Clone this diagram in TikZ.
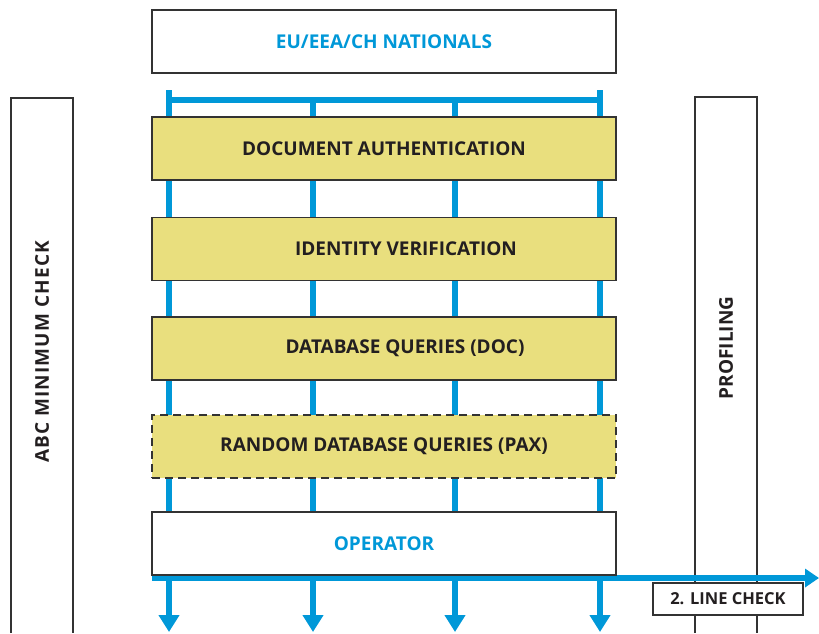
\documentclass[tikz,border=0pt]{standalone}
\usepackage{fontspec}
\setmainfont{Open Sans}
\usetikzlibrary{arrows.meta}
\definecolor{flowblue}{RGB}{0,152,216}
\definecolor{boxyellow}{RGB}{233,223,126}
\definecolor{boxline}{RGB}{51,51,51}
\definecolor{txt}{RGB}{35,31,32}
\begin{document}
\begin{tikzpicture}[x=1pt,y=-1pt,
  stage/.style={draw=boxline, line width=1.7pt, minimum width=464pt, minimum height=63pt, inner sep=0pt,
    font=\bfseries\fontsize{19}{22}\selectfont, text=txt},
  yellowstage/.style={stage, fill=boxyellow},
  whitestage/.style={stage, fill=white, text=flowblue},
  flow/.style={draw=flowblue, line width=5.5pt, line join=miter},
  downarrow/.style={flow, -{Triangle[width=20pt,length=17pt]}},
  sidebox/.style={draw=boxline, line width=1.7pt},
  sidetext/.style={rotate=90, font=\bfseries\fontsize{19}{22}\selectfont, text=txt}]
\useasboundingbox (0,0) rectangle (819,633);
% flow coordinates
\foreach \i/\x in {1/169,2/313,3/455,4/600}{
  \coordinate (t\i) at (\x,100);
  \coordinate (b\i) at (\x,632);
}
\coordinate (hstart) at (152,578);
\coordinate (hend) at (819,578);
% side boxes
\draw[sidebox] (11,633) -- (11,98) -- (73,98) -- (73,633);
\draw[sidebox] (695,633) -- (695,97) -- (757,97) -- (757,633);
\node[sidetext] (abc) at (42,352) {\addfontfeature{LetterSpace=6}ABC MINIMUM CHECK};
\node[sidetext] (prof) at (726,348) {PROFILING};
% blue flow
\draw[flow] ([yshift=10pt]t1) -- (t1) -- (t4) -- ([yshift=10pt]t4);
\foreach \i in {1,2,3,4}{\draw[downarrow] (t\i) -- (b\i);}
\draw[flow, -{Triangle[width=18pt,length=14pt]}] (hstart) -- (hend);
% stages
\node[whitestage] (eu) at (384,41.5) {EU/EEA/CH NATIONALS};
\node[yellowstage] (doc) at (384,148.5) {DOCUMENT AUTHENTICATION};
\node[yellowstage] (id) at (384,249) {\hspace*{44pt}IDENTITY VERIFICATION};
\node[yellowstage] (db) at (384,348.5) {\hspace*{42pt}DATABASE QUERIES (DOC)};
\node[yellowstage, dash pattern=on 8pt off 5pt] (rnd) at (384,446.5) {RANDOM DATABASE QUERIES (PAX)};
\node[whitestage] (op) at (384,543.5) {OPERATOR};
\node[draw=boxline, line width=1.7pt, fill=white, minimum width=150pt, minimum height=32pt, inner sep=0pt,
  font=\bfseries\fontsize{16.5}{19}\selectfont, text=txt] (line) at (728,599) {2. LINE CHECK};
\end{tikzpicture}
\end{document}
